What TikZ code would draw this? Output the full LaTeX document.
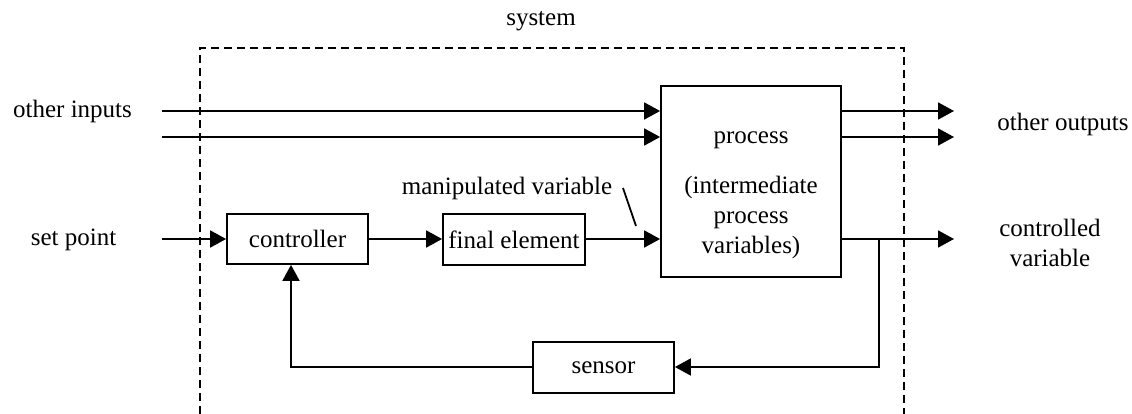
\documentclass[tikz,border=0pt]{standalone}
\usepackage{fontspec}
\setmainfont{Liberation Serif}
\usetikzlibrary{arrows.meta}
\tikzset{
  blk/.style={draw, line width=1.8pt, inner sep=0pt, minimum width=141pt, minimum height=51pt},
  lbl/.style={inner sep=0pt, align=center, font=\fontsize{25}{30}\selectfont},
  flow/.style={line width=1.8pt, -{Triangle[length=16pt,width=17pt]}},
  wire/.style={line width=1.8pt},
  sysbound/.style={line width=2.6pt, dash pattern=on 8pt off 5pt},
}
\begin{document}
\begin{tikzpicture}[x=1pt,y=-1pt]
  \useasboundingbox (0,0) rectangle (1132,414);

  % system boundary (open at the bottom)
  \draw[sysbound] (200,414) -- (200,48) -- (904,48) -- (904,414);
  \node[lbl] (sys) at (541,21) {system};

  % blocks
  \node[blk, minimum width=180pt, minimum height=191pt] (proc) at (751,181.5) {};
  \node[lbl] (proctext) at (751,195) {process\\[20pt](intermediate\\process\\variables)};
  \node[blk, minimum width=141pt, minimum height=50pt] (ctrl) at (297.5,239) {\fontsize{25}{30}\selectfont controller};
  \node[blk, minimum width=142pt] (fin) at (514,239.5) {\fontsize{25}{30}\selectfont final element};
  \node[blk] (sens) at (603.5,367.5) {\fontsize{25}{30}\selectfont sensor};

  % text labels
  \node[lbl] (inl) at (72.5,111) {other inputs};
  \node[lbl] (spl) at (73.5,240) {set point};
  \node[lbl] (outl) at (1063,124) {other outputs};
  \node[lbl] (cvl) at (1050,243) {controlled\\variable};
  \node[lbl] (mvl) at (507,188) {manipulated variable};

  % free ends
  \coordinate (in1) at (162,111);
  \coordinate (in2) at (162,137);
  \coordinate (sp) at (162,239);
  \coordinate (out1) at (954,111);
  \coordinate (out2) at (954,137);
  \coordinate (cv) at (954,239);
  \coordinate (tap) at (879,239);
  \coordinate (tapdn) at (879,367);
  \coordinate (fb) at (291,367);
  \coordinate (mvA) at (623,188);
  \coordinate (mvB) at (636,226);

  % signal flow
  \draw[flow] (in1) -- (in1 -| proc.west);
  \draw[flow] (in2) -- (in2 -| proc.west);
  \draw[flow] (out1 -| proc.east) -- (out1);
  \draw[flow] (out2 -| proc.east) -- (out2);
  \draw[flow] (cv -| proc.east) -- (cv);
  \draw[flow] (sp) -- (ctrl.west);
  \draw[flow] (ctrl.east) -- (fin.west |- ctrl.east);
  \draw[flow] (fin.east |- ctrl.east) -- (proc.west |- ctrl.east);

  % feedback loop
  \draw[flow] (tap) -- (tapdn) -- (sens.east |- tapdn);
  \draw[flow] (sens.west |- fb) -- (fb) -- (fb |- ctrl.south);

  % leader for the manipulated variable
  \draw[wire] (mvA) -- (mvB);
\end{tikzpicture}
\end{document}
